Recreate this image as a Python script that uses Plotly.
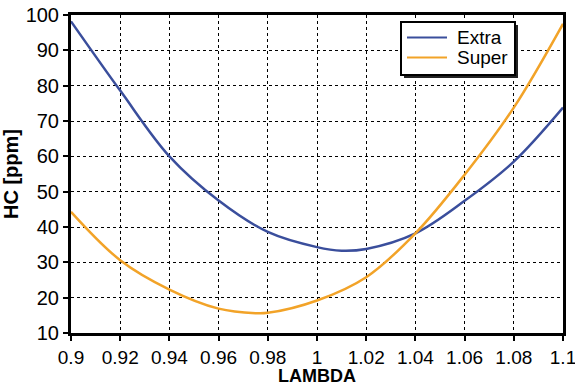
import plotly.graph_objects as go

lam_extra = [0.90, 0.92, 0.94, 0.96, 0.98, 1.00, 1.01, 1.02, 1.04, 1.06, 1.08, 1.10]
hc_extra = [98.2, 78.6, 60.0, 47.5, 38.6, 34.3, 33.3, 33.8, 38.2, 47.4, 58.5, 73.8]

lam_super = [0.90, 0.92, 0.94, 0.96, 0.975, 0.98, 1.00, 1.02, 1.04, 1.06, 1.08, 1.10]
hc_super = [44.3, 30.6, 22.3, 16.9, 15.6, 15.7, 19.2, 25.8, 38.2, 54.8, 73.8, 97.5]

series_names = ["Extra", "Super"]
series_colors = ["#3a4e9c", "#f2a328"]

x_ticks = [0.9, 0.92, 0.94, 0.96, 0.98, 1.0, 1.02, 1.04, 1.06, 1.08, 1.1]
x_labels = ["0.9", "0.92", "0.94", "0.96", "0.98", "1", "1.02", "1.04", "1.06", "1.08", "1.1"]
y_ticks = [10, 20, 30, 40, 50, 60, 70, 80, 90, 100]

FONT = "Liberation Sans, Arial, sans-serif"

# plot area in pixels (for converting layout positions to paper coords)
PL, PR, PT, PB = 71, 563, 15, 333


def px(x):
    return (x - PL) / (PR - PL)


def py(y):
    return (PB - y) / (PB - PT)


fig = go.Figure()
for xs, ys, name, col in [(lam_extra, hc_extra, series_names[0], series_colors[0]),
                          (lam_super, hc_super, series_names[1], series_colors[1])]:
    fig.add_trace(go.Scatter(x=xs, y=ys, name=name, mode="lines", showlegend=False,
                             line=dict(color=col, width=2.5, shape="spline", smoothing=1.0)))

# manual legend box (shadow + box)
fig.add_shape(type="rect", xref="paper", yref="paper",
              x0=px(404), x1=px(518), y0=py(78), y1=py(25),
              fillcolor="#222222", line=dict(width=0), layer="above")
fig.add_shape(type="rect", xref="paper", yref="paper",
              x0=px(401), x1=px(515), y0=py(75), y1=py(22),
              fillcolor="white", line=dict(color="black", width=2), layer="above")
for i, (name, col) in enumerate(zip(series_names, series_colors)):
    yy = 37.5 + 20 * i
    fig.add_shape(type="line", xref="paper", yref="paper",
                  x0=px(407), x1=px(447), y0=py(yy), y1=py(yy),
                  line=dict(color=col, width=2), layer="above")
    fig.add_annotation(xref="paper", yref="paper", x=px(455), y=py(yy),
                       xanchor="left", yanchor="middle", showarrow=False,
                       text=name, font=dict(size=19, family=FONT, color="black"))

# x-axis title
fig.add_annotation(xref="paper", yref="paper", x=0.5, y=py(376),
                   xanchor="center", yanchor="middle", showarrow=False,
                   text="<b>LAMBDA</b>", font=dict(size=18, family=FONT, color="black"))

fig.update_layout(
    width=575, height=387,
    margin=dict(l=PL, r=575 - PR, t=PT, b=387 - PB, autoexpand=False),
    paper_bgcolor="white", plot_bgcolor="white",
    font=dict(family=FONT, color="black"),
    showlegend=False,
    xaxis=dict(range=[0.9, 1.1], tickvals=x_ticks, ticktext=x_labels, automargin=False,
               ticklabeloverflow="allow",
               showline=True, linecolor="black", linewidth=3, mirror=True,
               ticks="outside", ticklen=5, tickwidth=2, tickcolor="black",
               showgrid=True, gridcolor="black", griddash="dot", gridwidth=1,
               zeroline=False, tickfont=dict(size=19, family=FONT)),
    yaxis=dict(range=[10, 100], tickvals=y_ticks, automargin=False,
               ticklabeloverflow="allow",
               showline=True, linecolor="black", linewidth=3, mirror=True,
               ticks="outside", ticklen=5, tickwidth=2, tickcolor="black",
               showgrid=True, gridcolor="black", griddash="dot", gridwidth=1,
               zeroline=False, tickfont=dict(size=20, family=FONT),
               title=dict(text="<b>HC [ppm]</b>", font=dict(size=20, family=FONT), standoff=4)),
)

fig.write_html("out.html")
